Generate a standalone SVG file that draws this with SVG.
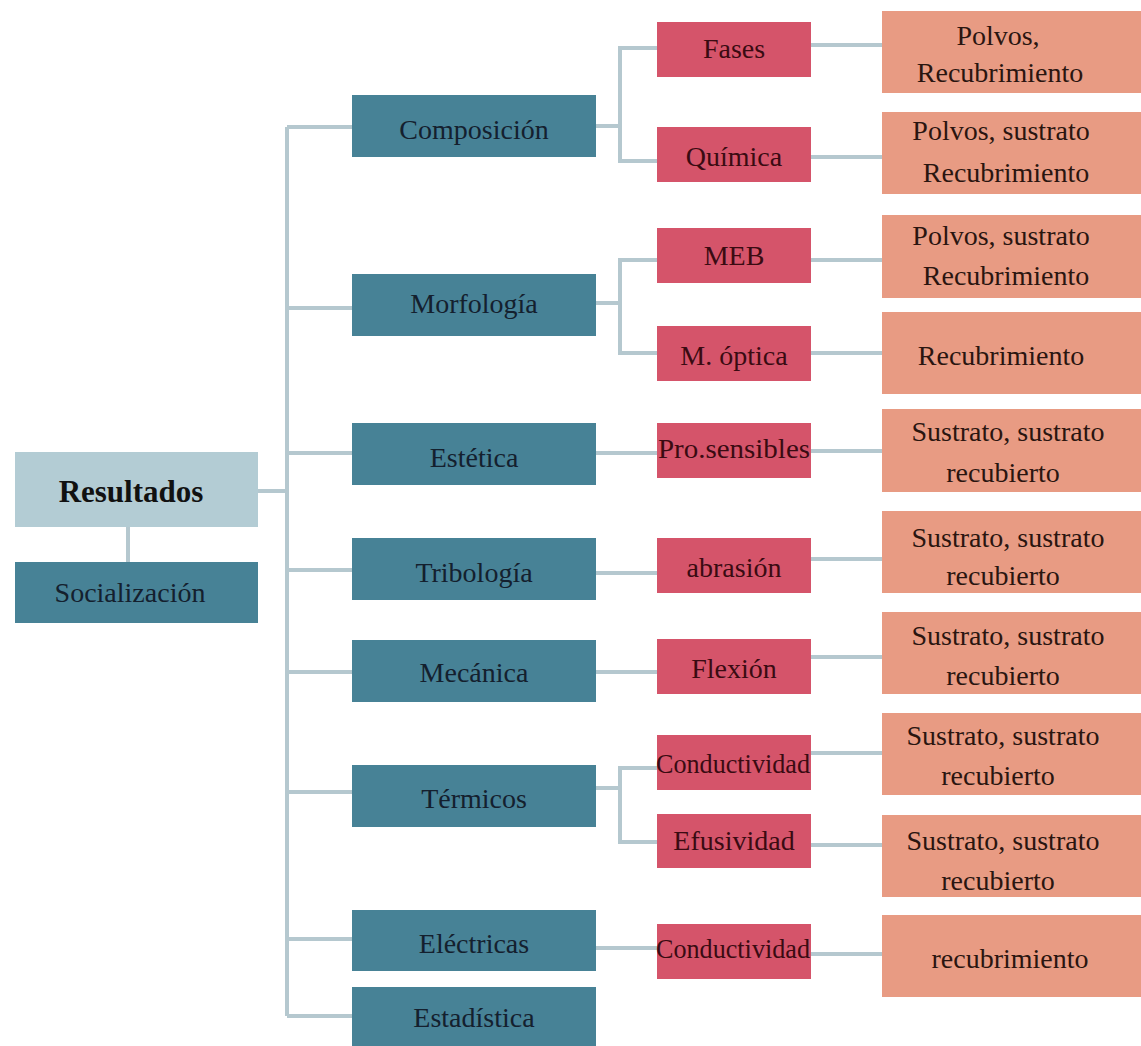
<svg xmlns="http://www.w3.org/2000/svg" width="1141" height="1046" viewBox="0 0 1141 1046">
  <style>
    .root { fill: #B3CCD4; }
    .area { fill: #478296; }
    .tech { fill: #D5546A; }
    .sample { fill: #E89B83; }
    .lbl { font-size: 28px; text-anchor: middle; }
    .t-area { fill: #14202e; }
    .t-tech { fill: #3a0b12; }
    .t-sample { fill: #2a1510; }
    .t-root { fill: #111; font-weight: bold; font-size: 31px; }
    .link { fill: none; stroke: #B5C8CF; stroke-width: 4; }
  </style>
  <rect width="1141" height="1046" fill="#ffffff"/>

  <!-- connectors -->
  <g id="connectors" class="link">
    <path d="M258 491 H287"/>
    <path d="M128 527 V562"/>
    <path d="M287 127 V1016"/>
    <path d="M287 127 H352"/>
    <path d="M287 308 H352"/>
    <path d="M287 453 H352"/>
    <path d="M287 570 H352"/>
    <path d="M287 672 H352"/>
    <path d="M287 792 H352"/>
    <path d="M287 939 H352"/>
    <path d="M287 1016 H352"/>
    <!-- area to technique -->
    <path d="M596 126 H620"/>
    <path d="M657 48 H620 V161 H657"/>
    <path d="M596 303 H620"/>
    <path d="M657 260 H620 V353 H657"/>
    <path d="M596 453 H657"/>
    <path d="M596 573 H657"/>
    <path d="M596 672 H657"/>
    <path d="M596 788 H620"/>
    <path d="M657 768 H620 V842 H657"/>
    <path d="M596 948 H657"/>
    <!-- technique to sample -->
    <path d="M811 45 H882"/>
    <path d="M811 157 H882"/>
    <path d="M811 260 H882"/>
    <path d="M811 353 H882"/>
    <path d="M811 451 H882"/>
    <path d="M811 559 H882"/>
    <path d="M811 657 H882"/>
    <path d="M811 753 H882"/>
    <path d="M811 845 H882"/>
    <path d="M811 954 H882"/>
  </g>

  <g id="nodes" font-family="Liberation Serif, Times New Roman, serif">
  <!-- root and its companion -->
  <g id="resultados">
    <rect class="root" x="15" y="452" width="243" height="75"/>
    <text class="lbl t-root" x="131" y="502">Resultados</text>
  </g>
  <g id="socializacion">
    <rect class="area" x="15" y="562" width="243" height="61"/>
    <text class="lbl t-area" x="130" y="602">Socialización</text>
  </g>

  <!-- areas -->
  <g id="composicion">
    <rect class="area" x="352" y="95" width="244" height="62"/>
    <text class="lbl t-area" x="474" y="139">Composición</text>
  </g>
  <g id="morfologia">
    <rect class="area" x="352" y="274" width="244" height="62"/>
    <text class="lbl t-area" x="474" y="313">Morfología</text>
  </g>
  <g id="estetica">
    <rect class="area" x="352" y="423" width="244" height="62"/>
    <text class="lbl t-area" x="474" y="467">Estética</text>
  </g>
  <g id="tribologia">
    <rect class="area" x="352" y="538" width="244" height="62"/>
    <text class="lbl t-area" x="474" y="582">Tribología</text>
  </g>
  <g id="mecanica">
    <rect class="area" x="352" y="640" width="244" height="62"/>
    <text class="lbl t-area" x="474" y="682">Mecánica</text>
  </g>
  <g id="termicos">
    <rect class="area" x="352" y="765" width="244" height="62"/>
    <text class="lbl t-area" x="474" y="808">Térmicos</text>
  </g>
  <g id="electricas">
    <rect class="area" x="352" y="910" width="244" height="61"/>
    <text class="lbl t-area" x="474" y="953">Eléctricas</text>
  </g>
  <g id="estadistica">
    <rect class="area" x="352" y="987" width="244" height="62"/>
    <text class="lbl t-area" x="474" y="1027">Estadística</text>
  </g>

  <!-- techniques -->
  <g id="fases">
    <rect class="tech" x="657" y="22" width="154" height="55"/>
    <text class="lbl t-tech" x="734" y="58">Fases</text>
  </g>
  <g id="quimica">
    <rect class="tech" x="657" y="127" width="154" height="55"/>
    <text class="lbl t-tech" x="734" y="166">Química</text>
  </g>
  <g id="meb">
    <rect class="tech" x="657" y="228" width="154" height="55"/>
    <text class="lbl t-tech" x="734" y="265">MEB</text>
  </g>
  <g id="m-optica">
    <rect class="tech" x="657" y="326" width="154" height="55"/>
    <text class="lbl t-tech" x="734" y="365">M. óptica</text>
  </g>
  <g id="pro-sensibles">
    <rect class="tech" x="657" y="423" width="154" height="55"/>
    <text class="lbl t-tech" x="734" y="458" textLength="152" lengthAdjust="spacingAndGlyphs">Pro.sensibles</text>
  </g>
  <g id="abrasion">
    <rect class="tech" x="657" y="538" width="154" height="55"/>
    <text class="lbl t-tech" x="734" y="577">abrasión</text>
  </g>
  <g id="flexion">
    <rect class="tech" x="657" y="639" width="154" height="55"/>
    <text class="lbl t-tech" x="734" y="678">Flexión</text>
  </g>
  <g id="conductividad-termica">
    <rect class="tech" x="657" y="735" width="154" height="55"/>
    <text class="lbl t-tech" x="733" y="773" textLength="154" lengthAdjust="spacingAndGlyphs">Conductividad</text>
  </g>
  <g id="efusividad">
    <rect class="tech" x="657" y="814" width="154" height="54"/>
    <text class="lbl t-tech" x="734" y="850">Efusividad</text>
  </g>
  <g id="conductividad-electrica">
    <rect class="tech" x="657" y="924" width="154" height="55"/>
    <text class="lbl t-tech" x="733" y="958" textLength="154" lengthAdjust="spacingAndGlyphs">Conductividad</text>
  </g>

  <!-- samples -->
  <g id="m-fases">
    <rect class="sample" x="882" y="11" width="262" height="82"/>
    <text class="lbl t-sample" x="998" y="45">Polvos,</text>
    <text class="lbl t-sample" x="1000" y="82">Recubrimiento</text>
  </g>
  <g id="m-quimica">
    <rect class="sample" x="882" y="112" width="262" height="82"/>
    <text class="lbl t-sample" x="1001" y="140">Polvos, sustrato</text>
    <text class="lbl t-sample" x="1006" y="182">Recubrimiento</text>
  </g>
  <g id="m-meb">
    <rect class="sample" x="882" y="215" width="262" height="83"/>
    <text class="lbl t-sample" x="1001" y="245">Polvos, sustrato</text>
    <text class="lbl t-sample" x="1006" y="285">Recubrimiento</text>
  </g>
  <g id="m-optica-muestra">
    <rect class="sample" x="882" y="312" width="262" height="82"/>
    <text class="lbl t-sample" x="1001" y="365">Recubrimiento</text>
  </g>
  <g id="m-estetica">
    <rect class="sample" x="882" y="409" width="262" height="83"/>
    <text class="lbl t-sample" x="1008" y="441">Sustrato, sustrato</text>
    <text class="lbl t-sample" x="1003" y="482">recubierto</text>
  </g>
  <g id="m-tribologia">
    <rect class="sample" x="882" y="511" width="262" height="82"/>
    <text class="lbl t-sample" x="1008" y="547">Sustrato, sustrato</text>
    <text class="lbl t-sample" x="1003" y="585">recubierto</text>
  </g>
  <g id="m-mecanica">
    <rect class="sample" x="882" y="612" width="262" height="82"/>
    <text class="lbl t-sample" x="1008" y="645">Sustrato, sustrato</text>
    <text class="lbl t-sample" x="1003" y="685">recubierto</text>
  </g>
  <g id="m-conductividad">
    <rect class="sample" x="882" y="713" width="262" height="82"/>
    <text class="lbl t-sample" x="1003" y="745">Sustrato, sustrato</text>
    <text class="lbl t-sample" x="998" y="785">recubierto</text>
  </g>
  <g id="m-efusividad">
    <rect class="sample" x="882" y="815" width="262" height="82"/>
    <text class="lbl t-sample" x="1003" y="850">Sustrato, sustrato</text>
    <text class="lbl t-sample" x="998" y="890">recubierto</text>
  </g>
  <g id="m-electrica">
    <rect class="sample" x="882" y="915" width="262" height="82"/>
    <text class="lbl t-sample" x="1010" y="968">recubrimiento</text>
  </g>
  </g>
</svg>
